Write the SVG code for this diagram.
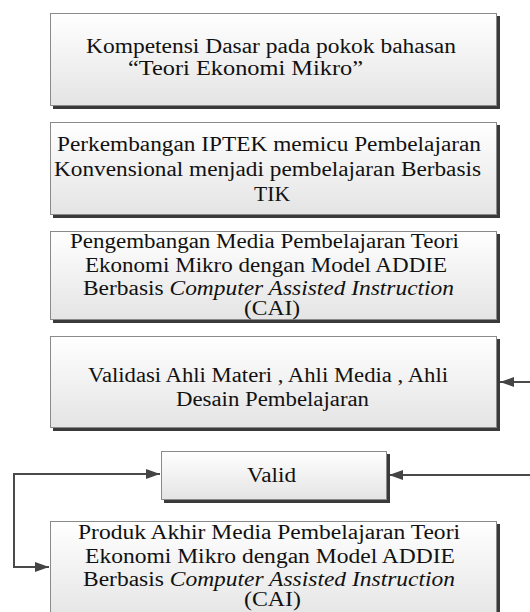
<svg xmlns="http://www.w3.org/2000/svg" width="530" height="612" viewBox="0 0 530 612">
<defs>
<linearGradient id="g" x1="0" y1="0" x2="0" y2="1">
<stop offset="0" stop-color="#ffffff"/>
<stop offset="1" stop-color="#e4e4e4"/>
</linearGradient>
<marker id="ah" viewBox="0 0 14 10" refX="14" refY="5" markerWidth="14" markerHeight="10" markerUnits="userSpaceOnUse" orient="auto">
<path d="M0,0 L14,5 L0,10 Z" fill="#444"/>
</marker>
</defs>
<style>
.sh{fill:#3a3a3a}
.bx{fill:url(#g);stroke:#8a8a8a;stroke-width:1}
.t{font-family:'Liberation Serif','DejaVu Serif',serif;font-size:20px;fill:#111}
.c{fill:none;stroke:#4a4a4a;stroke-width:2}
</style>
<rect width="530" height="612" fill="#ffffff"/>
<g id="connectors">
<path class="c" d="M530,382 H500" marker-end="url(#ah)"/>
<path class="c" d="M530,475 H389" marker-end="url(#ah)"/>
<path class="c" d="M14,474 H160" marker-end="url(#ah)"/>
<path class="c" d="M14,473 V567 H49" marker-end="url(#ah)"/>
</g>
<g font-family="Liberation Serif, DejaVu Serif, serif">
<g id="node1">
<rect class="sh" x="53" y="16" width="447" height="93"/>
<rect class="bx" x="50.5" y="13.5" width="446" height="92"/>
<text class="t" x="86" y="53" textLength="370" lengthAdjust="spacingAndGlyphs">Kompetensi Dasar pada pokok bahasan</text>
<text class="t" x="128" y="75" textLength="235" lengthAdjust="spacingAndGlyphs">“Teori Ekonomi Mikro”</text>
</g>
<g id="node2">
<rect class="sh" x="53" y="125" width="447" height="93"/>
<rect class="bx" x="50.5" y="122.5" width="446" height="92"/>
<text class="t" x="57" y="151" textLength="424" lengthAdjust="spacingAndGlyphs">Perkembangan IPTEK memicu Pembelajaran</text>
<text class="t" x="54" y="176" textLength="427" lengthAdjust="spacingAndGlyphs">Konvensional menjadi pembelajaran Berbasis</text>
<text class="t" x="254" y="201" textLength="36" lengthAdjust="spacingAndGlyphs">TIK</text>
</g>
<g id="node3">
<rect class="sh" x="53" y="234" width="447" height="89"/>
<rect class="bx" x="50.5" y="231.5" width="446" height="88"/>
<text class="t" x="70" y="248" textLength="389" lengthAdjust="spacingAndGlyphs">Pengembangan Media Pembelajaran Teori</text>
<text class="t" x="85" y="272" textLength="362" lengthAdjust="spacingAndGlyphs">Ekonomi Mikro dengan Model ADDIE</text>
<text class="t" x="83" y="295" textLength="371" lengthAdjust="spacingAndGlyphs">Berbasis <tspan font-style="italic">Computer Assisted Instruction</tspan></text>
<text class="t" x="244" y="315" textLength="56" lengthAdjust="spacingAndGlyphs">(CAI)</text>
</g>
<g id="node4">
<rect class="sh" x="53" y="339" width="447" height="92"/>
<rect class="bx" x="50.5" y="336.5" width="446" height="91"/>
<text class="t" x="88" y="382" textLength="360" lengthAdjust="spacingAndGlyphs">Validasi Ahli Materi , Ahli Media , Ahli</text>
<text class="t" x="176" y="406" textLength="193" lengthAdjust="spacingAndGlyphs">Desain Pembelajaran</text>
</g>
<g id="node5">
<rect class="sh" x="164" y="454" width="226" height="49"/>
<rect class="bx" x="161.5" y="451.5" width="225" height="48"/>
<text class="t" x="247" y="482" textLength="49" lengthAdjust="spacingAndGlyphs">Valid</text>
</g>
<g id="node6">
<rect class="sh" x="53" y="524" width="447" height="100"/>
<rect class="bx" x="50.5" y="521.5" width="446" height="100"/>
<text class="t" x="78" y="539" textLength="382" lengthAdjust="spacingAndGlyphs">Produk Akhir Media Pembelajaran Teori</text>
<text class="t" x="85" y="563" textLength="370" lengthAdjust="spacingAndGlyphs">Ekonomi Mikro dengan Model ADDIE</text>
<text class="t" x="83" y="586" textLength="372" lengthAdjust="spacingAndGlyphs">Berbasis <tspan font-style="italic">Computer Assisted Instruction</tspan></text>
<text class="t" x="244" y="606" textLength="57" lengthAdjust="spacingAndGlyphs">(CAI)</text>
</g>
</g>
</svg>
